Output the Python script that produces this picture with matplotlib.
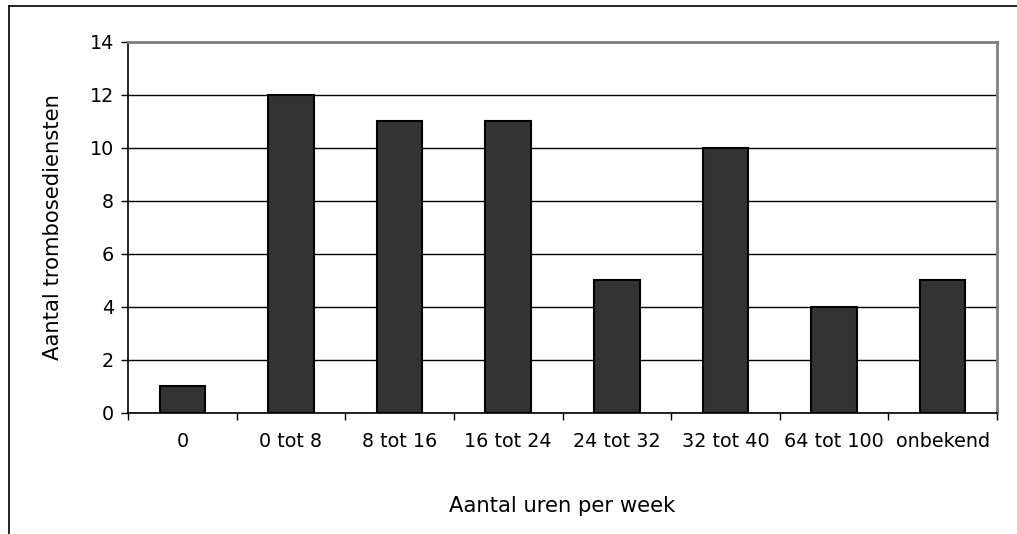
import matplotlib.pyplot as plt
from matplotlib.lines import Line2D

categories = ["0", "0 tot 8", "8 tot 16", "16 tot 24", "24 tot 32",
              "32 tot 40", "64 tot 100", "onbekend"]
counts = [1, 12, 11, 11, 5, 10, 4, 5]

fig = plt.figure(figsize=(10.17, 5.34), dpi=100)
ax = fig.add_axes([128 / 1017, 1 - 413 / 534, (997 - 128) / 1017, (413 - 41.5) / 534])

x = range(len(categories))
ax.bar(x, counts, width=0.42, color="#333333", edgecolor="black", linewidth=1.5, zorder=3)

ax.set_xlim(-0.5, len(categories) - 0.5)
ax.set_ylim(0, 14)
ax.set_yticks(range(0, 15, 2))
ax.yaxis.grid(True, color="black", linewidth=1, zorder=0)

ax.set_xticks(list(x))
ax.set_xticklabels(categories, fontsize=13.8)
ax.set_xticks([i - 0.5 for i in range(len(categories) + 1)], minor=True)
ax.tick_params(axis="x", which="major", length=0, pad=14)
ax.tick_params(axis="x", which="minor", length=5, direction="out", width=1)
ax.tick_params(axis="y", length=5, direction="out", width=1, labelsize=13.8, pad=5)

for side in ["left", "bottom"]:
    ax.spines[side].set_color("black")
    ax.spines[side].set_linewidth(1.2)
for side in ["top", "right"]:
    ax.spines[side].set_color("#808080")
    ax.spines[side].set_linewidth(2)

ax.set_xlabel("Aantal uren per week", fontsize=15.2, labelpad=32)
ax.set_ylabel("Aantal trombosediensten", fontsize=15.2, labelpad=19)

# outer chart border (left and top visible)
fig.add_artist(Line2D([8.5 / 1017, 8.5 / 1017], [0, 1 - 5.5 / 534], color="black", linewidth=1.2))
fig.add_artist(Line2D([8.5 / 1017, 1], [1 - 5.5 / 534, 1 - 5.5 / 534], color="black", linewidth=1.2))

fig.savefig("out.png", dpi=100)
